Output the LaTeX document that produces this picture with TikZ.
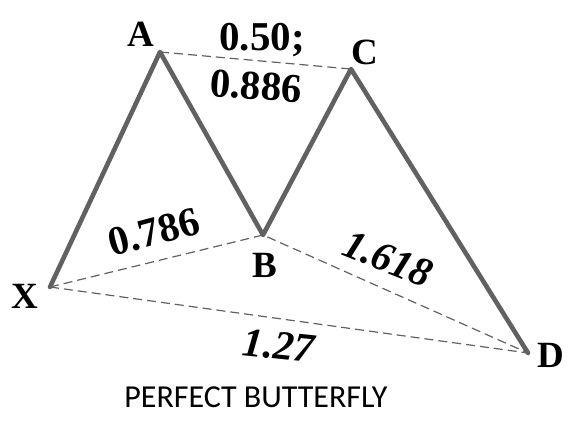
\documentclass[tikz,border=0pt]{standalone}
\usepackage{fontspec}
\setmainfont{Liberation Serif}
\newfontfamily\capfont{Carlito}
\usepackage{tikz}
\usetikzlibrary{positioning}

\begin{document}
\begin{tikzpicture}[x=1pt,y=-1pt,line join=round,line cap=round]
  \tikzstyle{leg}=[draw=black!62,line width=4.6pt]
  \tikzstyle{ratio}=[draw=black!62,line width=1.2pt,dash pattern=on 9pt off 5pt,line cap=butt]
  \tikzstyle{pt}=[font=\fontsize{37}{37}\selectfont\bfseries,inner sep=0pt]
  \tikzstyle{num}=[font=\fontsize{41}{41}\selectfont\bfseries,inner sep=0pt]

  \useasboundingbox (0,0) rectangle (581,434);

  \coordinate (X) at (50,287);
  \coordinate (A) at (160,52);
  \coordinate (B) at (263,235);
  \coordinate (C) at (351,69);
  \coordinate (D) at (528,353);

  \node[pt] (lX) at (25,296)  {X};
  \node[pt] (lA) at (141,34)  {A};
  \node[pt] (lB) at (265,265) {B};
  \node[pt] (lC) at (365,52)  {C};
  \node[pt] (lD) at (551,355) {D};

  \draw[ratio] (A) -- (C);
  \draw[ratio] (X) -- (B) -- (D);
  \draw[ratio] (X) -- (D);
  \draw[leg] (X) -- (A) -- (B) -- (C) -- (D);

  \node[num]                    (r1) at (262,40)  {0.50;};
  \node[num,rotate=-4]          (r2) at (256,86)  {0.886};
  \node[num,rotate=15]          (r3) at (154,232) {0.786};
  \node[num,rotate=-22,font=\fontsize{41}{41}\selectfont\bfseries\itshape]
                                (r4) at (388,259) {1.618};
  \node[num,rotate=-6,font=\fontsize{41}{41}\selectfont\bfseries\itshape]
                                (r5) at (279,346) {1.27};

  \node[font=\capfont\fontsize{32}{32}\selectfont] (title) at (256,397) {PERFECT BUTTERFLY};
\end{tikzpicture}
\end{document}
